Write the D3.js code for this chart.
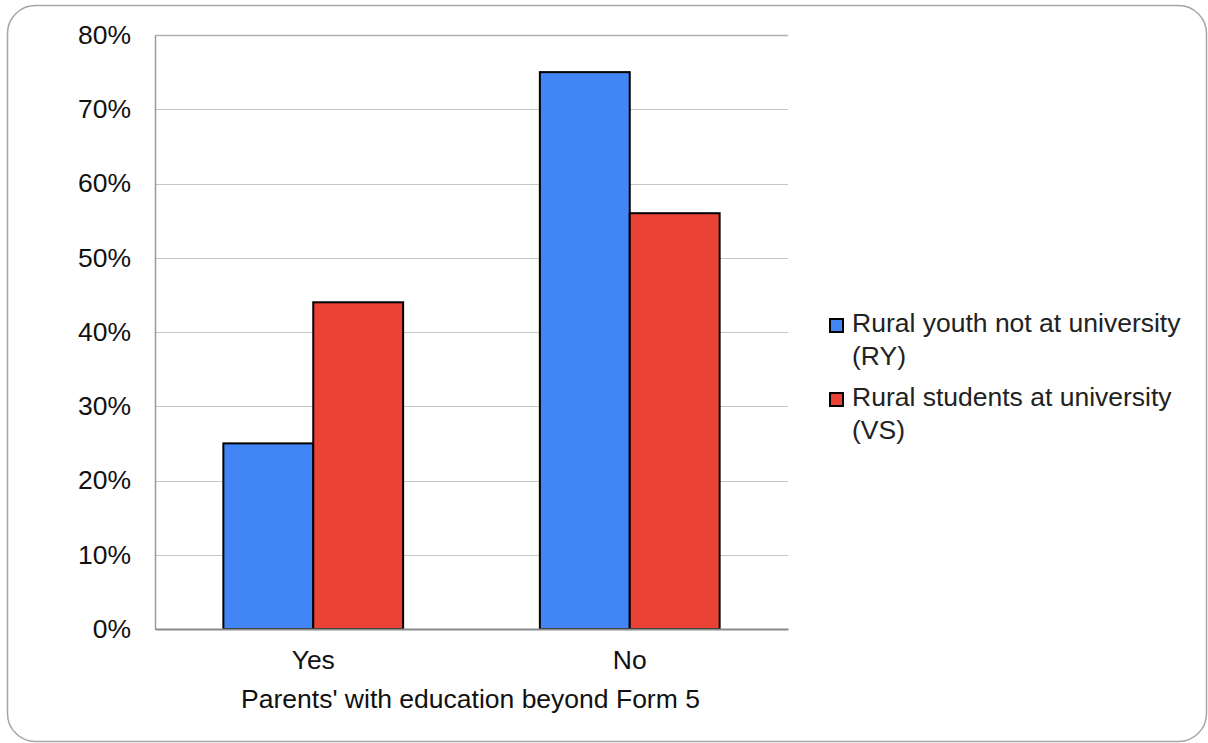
<!DOCTYPE html>
<html>
<head>
<meta charset="utf-8">
<script src="https://cdn.jsdelivr.net/npm/d3@7"></script>
<style>
  html, body { margin: 0; padding: 0; background: #fff; }
  svg { display: block; font-family: "Liberation Sans", Arial, sans-serif; }
</style>
</head>
<body>
<svg id="chart" width="1208" height="743"></svg>
<script>
// Categories, series and ticks
const categories = ["Yes", "No"];
const seriesNames = [
  ["Rural youth not at university", "(RY)"],
  ["Rural students at university", "(VS)"]
];
const seriesKeys = ["RY", "VS"];
const seriesColors = ["#4285f4", "#ea4335"];
const valuesRY = [0.25, 0.75];
const valuesVS = [0.44, 0.56];
const yTicks = [0, 0.1, 0.2, 0.3, 0.4, 0.5, 0.6, 0.7, 0.8];
const xAxisTitle = "Parents' with education beyond Form 5";

const seriesValues = [valuesRY, valuesVS];
const rows = categories.map((c, i) => ({
  category: c,
  values: seriesKeys.map((k, j) => ({ key: k, value: seriesValues[j][i], color: seriesColors[j] }))
}));

const FONT = 26.5;
const svg = d3.select("#chart");

// Rounded outer frame
svg.append("rect")
  .attr("x", 7.5).attr("y", 5.5)
  .attr("width", 1199).attr("height", 736)
  .attr("rx", 28).attr("ry", 28)
  .attr("fill", "#fff")
  .attr("stroke", "#a6a6a6")
  .attr("stroke-width", 1.5);

const plot = { left: 155, right: 788, top: 35, bottom: 629 };

const x0 = d3.scaleBand()
  .domain(categories)
  .range([plot.left, plot.right])
  .paddingInner(0.432)
  .paddingOuter(0.216);

const x1 = d3.scaleBand()
  .domain(seriesKeys)
  .range([0, x0.bandwidth()])
  .padding(0);

const y = d3.scaleLinear()
  .domain([0, 0.8])
  .range([plot.bottom, plot.top]);

// Horizontal gridlines
svg.append("g")
  .selectAll("line")
  .data(yTicks.filter(t => t > 0))
  .join("line")
  .attr("x1", plot.left).attr("x2", plot.right)
  .attr("y1", d => Math.round(y(d)) + 0.5)
  .attr("y2", d => Math.round(y(d)) + 0.5)
  .attr("stroke", d => d === 0.8 ? "#b0b0b0" : "#c6c6c6")
  .attr("stroke-width", d => d === 0.8 ? 1.5 : 1.2);

// Y axis
const yAxis = svg.append("g")
  .attr("transform", `translate(${plot.left},0)`)
  .call(d3.axisLeft(y).tickValues(yTicks).tickFormat(d3.format(".0%")).tickSize(0).tickPadding(24));
yAxis.select(".domain").attr("stroke", "#9a9a9a").attr("stroke-width", 1.5);
yAxis.selectAll("text")
  .attr("font-size", FONT)
  .attr("fill", "#111")
  .attr("font-family", "'Liberation Sans', Arial, sans-serif");

// Bars
const groups = svg.append("g")
  .selectAll("g")
  .data(rows)
  .join("g")
  .attr("transform", d => `translate(${x0(d.category)},0)`);

groups.selectAll("rect")
  .data(d => d.values)
  .join("rect")
  .attr("x", d => x1(d.key))
  .attr("y", d => y(d.value))
  .attr("width", x1.bandwidth())
  .attr("height", d => y(0) - y(d.value))
  .attr("fill", d => d.color)
  .attr("stroke", "#000")
  .attr("stroke-width", 2);

// X axis
const xAxis = svg.append("g")
  .attr("transform", `translate(0,${plot.bottom})`)
  .call(d3.axisBottom(x0).tickSize(0).tickPadding(21));
xAxis.select(".domain").attr("stroke", "#8a8a8a").attr("stroke-width", 2);
xAxis.selectAll("text")
  .attr("font-size", FONT)
  .attr("fill", "#111")
  .attr("font-family", "'Liberation Sans', Arial, sans-serif");

// X axis title
svg.append("text")
  .attr("x", (plot.left + plot.right) / 2 - 1)
  .attr("y", 708)
  .attr("text-anchor", "middle")
  .attr("font-size", FONT)
  .attr("fill", "#111")
  .text(xAxisTitle);

// Legend
const legend = svg.append("g").attr("transform", "translate(830,0)");
const legendItems = legend.selectAll("g")
  .data(seriesNames)
  .join("g")
  .attr("transform", (d, i) => `translate(0,${332 + i * 74})`);

legendItems.append("rect")
  .attr("x", 0).attr("y", -13)
  .attr("width", 13).attr("height", 13)
  .attr("fill", (d, i) => seriesColors[i])
  .attr("stroke", "#000")
  .attr("stroke-width", 2);

legendItems.append("text")
  .attr("x", 22)
  .attr("font-size", FONT)
  .attr("fill", "#222")
  .selectAll("tspan")
  .data(d => d)
  .join("tspan")
  .attr("x", 22)
  .attr("dy", (d, i) => i === 0 ? 0 : 33)
  .text(d => d);
</script>
</body>
</html>
